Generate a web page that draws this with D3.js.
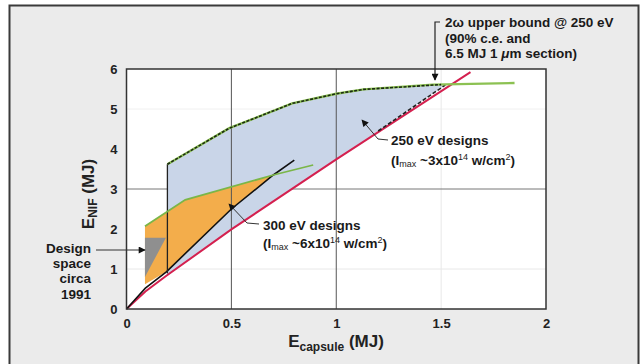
<!DOCTYPE html>
<html><head><meta charset="utf-8">
<script src="https://cdn.jsdelivr.net/npm/d3@7"></script>
<style>
html,body{margin:0;padding:0;background:#fff;}
svg{display:block;font-family:"Liberation Sans",Arial,Helvetica,sans-serif;}
</style></head>
<body>
<svg id="c" width="641" height="364"></svg>
<script>
// ---- data (MJ) ----
const xTicks = [0, 0.5, 1, 1.5, 2];
const yTicks = [0, 1, 2, 3, 4, 5, 6];
const xTickLabels = ["0", "0.5", "1", "1.5", "2"];
const yTickLabels = ["0", "1", "2", "3", "4", "5", "6"];
// 250 eV designs: upper boundary (green with black dashes)
const upper250 = [[0.195,3.62],[0.49,4.52],[0.79,5.14],[1.0,5.38],[1.13,5.49],[1.46,5.61],[1.85,5.65]];
const upper250Dashed = [[0.195,3.62],[0.49,4.52],[0.79,5.14],[1.0,5.38],[1.13,5.49],[1.5,5.61]];
const lower250 = [[1.52,5.6],[1.2,4.45],[1.0,3.74],[0.5,1.99],[0.195,0.84]];
const bound250 = [[1.2,4.45],[1.52,5.6]];
const left250 = [[0.195,3.62],[0.195,0.89]];
// 2ω upper bound line (red)
const redBound = [[0,0],[0.09,0.44],[0.19,0.83],[0.5,1.99],[1.0,3.74],[1.64,5.92]];
// 300 eV designs
const upper300 = [[0.088,2.07],[0.28,2.73],[0.7,3.35],[0.89,3.6]];
const black300 = [[0,0],[0.09,0.52],[0.19,0.93],[0.5,2.5],[0.7,3.35],[0.8,3.72]];
const orange300 = [[0.088,2.07],[0.28,2.73],[0.7,3.35],[0.5,2.5],[0.19,0.93],[0.088,0.62]];
// design space circa 1991
const grey1991 = [[0.088,1.78],[0.188,1.78],[0.088,0.8]];
const designLabel = ["Design","space","circa","1991"];
const topNote = ["2\u03c9 upper bound @ 250 eV","(90% c.e. and","6.5 MJ 1 \u03bcm section)"];

const svg = d3.select("#c");
const W = 641, H = 364;
const m = {l:126.5, r:546, t:69, b:309};
const x = d3.scaleLinear().domain([0,2]).range([m.l, m.r]);
const y = d3.scaleLinear().domain([0,6]).range([m.b, m.t]);
const line = d3.line().x(d=>x(d[0])).y(d=>y(d[1]));

// frame
svg.append("rect").attr("x",9.5).attr("y",5.5).attr("width",629).attr("height",370)
  .attr("fill","#ebebeb").attr("stroke","#3a3a3a").attr("stroke-width",2);
// plot area
svg.append("rect").attr("x",m.l).attr("y",m.t).attr("width",m.r-m.l).attr("height",m.b-m.t).attr("fill","#fff");

// faint grid
const g0 = svg.append("g");
g0.append("line").attr("x1",m.l).attr("x2",m.r).attr("y1",y(1)).attr("y2",y(1)).attr("stroke","#e8e8e8");
g0.append("line").attr("x1",m.l).attr("x2",m.r).attr("y1",y(5)).attr("y2",y(5)).attr("stroke","#f0f0f0");
g0.append("line").attr("x1",x(1.5)).attr("x2",x(1.5)).attr("y1",m.t).attr("y2",m.b).attr("stroke","#e8e8e8");
g0.append("line").attr("x1",m.l).attr("x2",m.r).attr("y1",y(3)).attr("y2",y(3)).attr("stroke","#777").attr("stroke-width",1);

// fills
const blueArea = upper250.slice(0,6).concat(lower250);
svg.append("path").attr("d", line(blueArea)+"Z").attr("fill","#c9d5e8");
svg.append("path").attr("d", line(orange300)+"Z").attr("fill","#f3ad4b");
svg.append("path").attr("d", line(grey1991)+"Z").attr("fill","#8f8f8f");

// dark grid verticals
[0.5,1].forEach(v=>{
  svg.append("line").attr("x1",x(v)).attr("x2",x(v)).attr("y1",m.t).attr("y2",m.b).attr("stroke","#555").attr("stroke-width",1);
});

// lines
svg.append("path").attr("d",line(redBound)).attr("fill","none").attr("stroke","#d4204f").attr("stroke-width",2);
svg.append("path").attr("d",line(bound250)).attr("fill","none").attr("stroke","#222").attr("stroke-width",1.6).attr("stroke-dasharray","4,2");
svg.append("path").attr("d",line(black300)).attr("fill","none").attr("stroke","#111").attr("stroke-width",1.6);
svg.append("path").attr("d",line(left250)).attr("fill","none").attr("stroke","#222").attr("stroke-width",1.3);
svg.append("path").attr("d",line(upper300)).attr("fill","none").attr("stroke","#7ab648").attr("stroke-width",1.8);
svg.append("path").attr("d",line(upper250)).attr("fill","none").attr("stroke","#8cc152").attr("stroke-width",2.4);
svg.append("path").attr("d",line(upper250Dashed)).attr("fill","none").attr("stroke","#1c2a14").attr("stroke-width",1.6).attr("stroke-dasharray","3,1.5");

// border
svg.append("rect").attr("x",m.l).attr("y",m.t).attr("width",m.r-m.l).attr("height",m.b-m.t)
  .attr("fill","none").attr("stroke","#333").attr("stroke-width",1.5);

// axes
const xAxis = svg.append("g").attr("transform",`translate(0,${m.b})`)
  .call(d3.axisBottom(x).tickValues(xTicks).tickFormat((d,i)=>xTickLabels[i]).tickSize(0).tickPadding(10));
const yAxis = svg.append("g").attr("transform",`translate(${m.l},0)`)
  .call(d3.axisLeft(y).tickValues(yTicks).tickFormat((d,i)=>yTickLabels[i]).tickSize(0).tickPadding(9));
[xAxis,yAxis].forEach(a=>{
  a.select(".domain").remove();
  a.selectAll("text").attr("font-family","'Liberation Sans',Arial,sans-serif").attr("font-size",13).attr("font-weight","bold").attr("fill","#222");
});

// axis titles
const xt = svg.append("text").attr("x",336).attr("y",347).attr("text-anchor","middle")
  .attr("font-weight","bold").attr("font-size",17).attr("fill","#222");
xt.append("tspan").text("E");
xt.append("tspan").attr("font-size",12).attr("dy",4).text("capsule");
xt.append("tspan").attr("dy",-4).text(" (MJ)");
const yt = svg.append("text").attr("transform","translate(94,194) rotate(-90)").attr("text-anchor","middle")
  .attr("font-weight","bold").attr("font-size",17).attr("fill","#222");
yt.append("tspan").text("E");
yt.append("tspan").attr("font-size",12).attr("dy",3).text("NIF");
yt.append("tspan").attr("dy",-3).text(" (MJ)");

// arrow marker
const defs = svg.append("defs");
defs.append("marker").attr("id","arr").attr("viewBox","0 0 10 10").attr("refX",9).attr("refY",5)
  .attr("markerWidth",8).attr("markerHeight",7).attr("markerUnits","userSpaceOnUse").attr("orient","auto")
  .append("path").attr("d","M0,0 L10,5 L0,10 Z").attr("fill","#111");

const ann = svg.append("g").attr("font-weight","bold").attr("font-size",13.5).attr("fill","#1a1a1a");
// top note
topNote.forEach((t,i)=>{
  const tx = ann.append("text").attr("x",445).attr("y",27+i*15.5);
  if (i===2) {
    tx.append("tspan").text("6.5 MJ 1 ");
    tx.append("tspan").attr("font-style","italic").text("\u03bc");
    tx.append("tspan").text("m section)");
  } else tx.text(t);
});
svg.append("path").attr("d","M440,22 H435 V80").attr("fill","none").attr("stroke","#222").attr("stroke-width",1.2).attr("marker-end","url(#arr)");

// 250 eV
ann.append("text").attr("x",391).attr("y",145).text("250 eV designs");
function imaxLine(xp, yp, mant){
  const t = ann.append("text").attr("x",xp).attr("y",yp);
  t.append("tspan").text("(I");
  t.append("tspan").attr("font-size",9).attr("font-weight","normal").attr("dy",2).text("max");
  t.append("tspan").attr("dy",-2).text(" ~"+mant+"x10");
  t.append("tspan").attr("font-size",9).attr("font-weight","normal").attr("dy",-5).text("14");
  t.append("tspan").attr("dy",5).text(" w/cm");
  t.append("tspan").attr("font-size",9).attr("font-weight","normal").attr("dy",-5).text("2");
  t.append("tspan").attr("dy",5).text(")");
}
imaxLine(391,165,"3");
svg.append("path").attr("d","M388,140 L378,139 L362,120").attr("fill","none").attr("stroke","#333").attr("stroke-width",1).attr("marker-end","url(#arr)");

// 300 eV
ann.append("text").attr("x",263).attr("y",229.5).text("300 eV designs");
imaxLine(263,247.5,"6");
svg.append("path").attr("d","M259,224 L247,223 L229,204").attr("fill","none").attr("stroke","#333").attr("stroke-width",1).attr("marker-end","url(#arr)");

// design space 1991
designLabel.forEach((t,i)=>{
  ann.append("text").attr("x",91).attr("y",252.5+i*15.4).attr("text-anchor","end").text(t);
});
svg.append("path").attr("d","M96,250 H145").attr("fill","none").attr("stroke","#333").attr("stroke-width",1).attr("marker-end","url(#arr)");
</script>
</body></html>
